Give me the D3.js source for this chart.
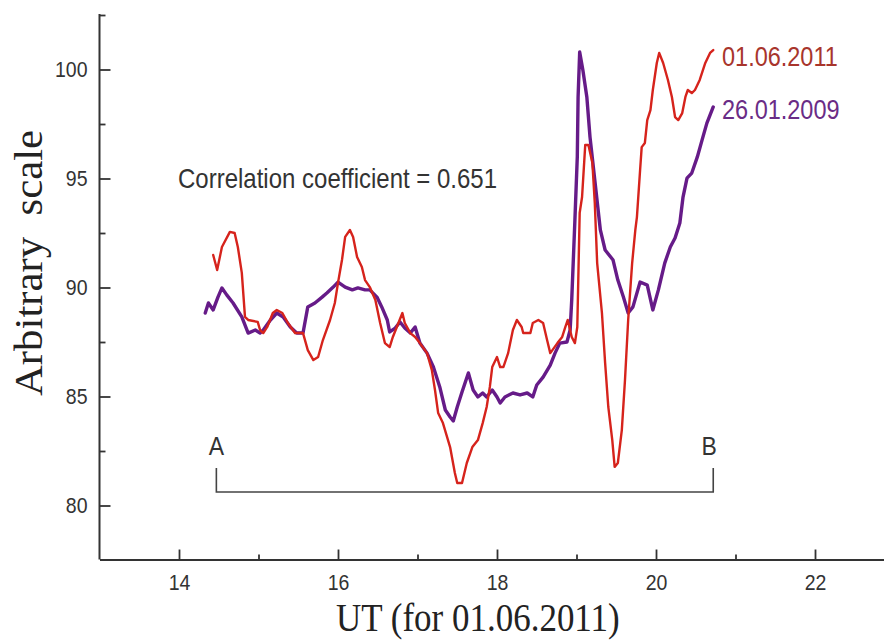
<!DOCTYPE html>
<html>
<head>
<meta charset="utf-8">
<script src="https://cdn.jsdelivr.net/npm/d3@7"></script>
<style>
  html, body { margin: 0; padding: 0; background: #fff; }
  svg { display: block; }
</style>
</head>
<body>
<svg id="chart" width="884" height="642"></svg>
<script>
// ---- data ----
const redUT = [14.43,14.48,14.54,14.64,14.70,14.74,14.79,14.83,14.87,14.99,15.02,15.06,15.11,15.18,15.23,15.30,15.37,15.46,15.56,15.62,15.69,15.75,15.81,15.90,15.96,16.00,16.05,16.09,16.15,16.19,16.24,16.30,16.34,16.40,16.47,16.53,16.59,16.65,16.69,16.74,16.81,16.84,16.91,16.97,17.03,17.12,17.18,17.22,17.26,17.32,17.41,17.47,17.50,17.56,17.62,17.69,17.76,17.82,17.87,17.91,17.94,18.00,18.04,18.08,18.14,18.20,18.25,18.31,18.33,18.42,18.45,18.52,18.58,18.63,18.67,18.76,18.82,18.86,18.89,18.94,18.98,19.01,19.04,19.07,19.11,19.15,19.20,19.23,19.26,19.32,19.36,19.40,19.45,19.48,19.52,19.57,19.61,19.65,19.70,19.74,19.76,19.80,19.82,19.86,19.89,19.93,19.96,20.01,20.04,20.09,20.15,20.20,20.24,20.28,20.33,20.37,20.40,20.45,20.49,20.55,20.62,20.68,20.72];
const redVal = [91.49,90.80,91.86,92.55,92.50,91.86,90.67,88.65,88.51,88.42,88.05,87.91,88.19,88.83,88.97,88.83,88.37,87.91,87.91,87.13,86.67,86.81,87.59,88.51,89.29,90.21,91.26,92.32,92.64,92.32,91.40,90.94,90.34,90.02,89.43,88.37,87.45,87.27,87.73,88.19,88.83,88.37,87.91,87.73,87.45,86.99,86.22,85.30,84.24,83.78,82.68,81.49,81.03,81.03,81.95,82.68,83.00,83.78,84.52,85.44,86.35,86.81,86.35,86.35,86.99,88.05,88.51,88.19,87.91,87.91,88.37,88.51,88.37,87.59,86.99,87.45,87.73,88.19,88.51,87.73,87.45,88.19,93.42,94.15,96.54,96.54,95.71,93.88,91.12,88.83,86.54,84.52,83.00,81.77,81.95,83.46,85.76,88.51,91.12,92.64,93.23,95.39,96.44,96.63,97.68,98.14,99.06,100.30,100.76,100.30,99.52,98.74,97.82,97.68,98.00,98.74,99.06,98.92,99.06,99.52,100.30,100.76,100.89];

const purpleUT = [14.33,14.37,14.43,14.49,14.54,14.60,14.68,14.79,14.87,14.96,15.02,15.06,15.15,15.23,15.31,15.40,15.48,15.56,15.62,15.71,15.80,15.86,15.94,16.00,16.09,16.18,16.25,16.34,16.40,16.49,16.55,16.62,16.65,16.72,16.78,16.84,16.91,16.97,17.03,17.12,17.20,17.28,17.35,17.41,17.45,17.50,17.56,17.64,17.70,17.76,17.82,17.87,17.94,18.00,18.04,18.10,18.20,18.29,18.38,18.45,18.50,18.58,18.67,18.73,18.79,18.88,18.92,18.94,18.98,19.01,19.02,19.04,19.08,19.13,19.17,19.23,19.30,19.36,19.46,19.52,19.59,19.65,19.71,19.80,19.89,19.96,20.03,20.11,20.18,20.24,20.30,20.34,20.39,20.45,20.52,20.58,20.64,20.72];
const purpleVal = [88.83,89.29,88.97,89.56,89.98,89.66,89.29,88.65,87.91,88.05,87.91,88.05,88.51,88.83,88.65,88.19,87.91,87.91,89.11,89.29,89.56,89.75,90.02,90.25,90.02,89.89,89.98,89.89,89.89,89.56,89.11,88.51,87.96,88.14,88.42,88.14,87.91,88.19,87.45,86.99,86.35,85.44,84.38,84.06,83.88,84.52,85.21,86.08,85.30,84.98,85.16,84.98,85.30,84.98,84.70,84.98,85.16,85.07,85.16,84.98,85.53,85.89,86.44,86.99,87.45,87.50,88.05,89.43,93.10,95.99,98.74,100.80,99.98,98.74,96.90,94.93,92.64,91.72,91.26,90.34,89.56,88.83,89.11,90.25,90.11,88.97,89.89,91.12,91.86,92.27,92.96,94.15,95.02,95.25,95.99,96.77,97.54,98.28];

const seriesNames = ["01.06.2011", "26.01.2009"];
const xTicks = [14, 16, 18, 20, 22];
const xMinorTicks = [15, 17, 19, 21];
const yTicks = [80, 85, 90, 95, 100];
const yMinorTicks = [82.5, 87.5, 92.5, 97.5, 102.5];
const xTitle = "UT (for 01.06.2011)";
const yTitle = "Arbitrary  scale";
const noteText = "Correlation coefficient = 0.651";
const bracketFrom = 14.47, bracketTo = 20.72, bracketLevel = 80.62, bracketTop = 81.72;

// ---- layout ----
const svg = d3.select("#chart");
const axisY0 = 559.5, axisX0 = 99.5;
const x = d3.scaleLinear().domain([13, 23]).range([99.5, 894.5]);
const y = d3.scaleLinear().domain([77.5, 102.5]).range([560, 15]);
const stretch = 1.15;
const sans = "'Liberation Sans', Arial, sans-serif";
const serif = "'Liberation Serif', 'Times New Roman', serif";
const axisColor = "#333";

// x axis (major + minor, ticks inward)
svg.append("g").attr("transform", `translate(0,${axisY0})`)
  .call(d3.axisBottom(x).tickValues(xTicks).tickSizeInner(-10).tickSizeOuter(0).tickPadding(12.5).tickFormat(d3.format("d")));
svg.append("g").attr("transform", `translate(0,${axisY0})`)
  .call(d3.axisBottom(x).tickValues(xMinorTicks).tickSizeInner(-5).tickSizeOuter(0).tickFormat(""))
  .call(g => g.select(".domain").remove());

// y axis
const gy = svg.append("g").attr("transform", `translate(${axisX0},0)`)
  .call(d3.axisLeft(y).tickValues(yTicks).tickSizeInner(-11).tickSizeOuter(0).tickPadding(12).tickFormat(d3.format("d")));
svg.append("g").attr("transform", `translate(${axisX0},0)`)
  .call(d3.axisLeft(y).tickValues(yMinorTicks).tickSizeInner(-6).tickSizeOuter(0).tickFormat(""))
  .call(g => g.select(".domain").remove());

svg.selectAll(".domain").attr("stroke", axisColor).attr("stroke-width", 2);
svg.selectAll(".tick line").attr("stroke", axisColor).attr("stroke-width", 1.8);
svg.selectAll(".tick text")
  .attr("fill", "#333")
  .style("font-family", sans)
  .style("font-size", "19.5px")
  .attr("transform", `scale(1,${stretch})`);
gy.select(".domain").attr("d", `M0,${axisY0}V${y(102.55)}`);

// lines
const line = d3.line().x(d => x(d[0])).y(d => y(d[1]));
const purplePts = purpleUT.map((u, i) => [u, purpleVal[i]]);
const redPts = redUT.map((u, i) => [u, redVal[i]]);

svg.append("path").datum(purplePts)
  .attr("d", line).attr("fill", "none")
  .attr("stroke", "#661b88").attr("stroke-width", 3.4)
  .attr("stroke-linejoin", "round").attr("stroke-linecap", "round");
svg.append("path").datum(redPts)
  .attr("d", line).attr("fill", "none")
  .attr("stroke", "#d6231c").attr("stroke-width", 2.4)
  .attr("stroke-linejoin", "round").attr("stroke-linecap", "round");

// series labels
const legendX = 722;
[[seriesNames[0], 66, "#a8352c"], [seriesNames[1], 119, "#6a2c86"]].forEach(([t, by, c]) => {
  svg.append("text").attr("transform", `translate(${legendX},${by}) scale(1,${stretch})`)
    .attr("fill", c).style("font-family", sans).style("font-size", "23.5px").text(t);
});

// correlation note
svg.append("text").attr("transform", `translate(178,188) scale(1,${stretch})`)
  .attr("fill", "#333").style("font-family", sans).style("font-size", "24px").text(noteText);

// A-B bracket
const br = svg.append("g").attr("stroke", "#444").attr("stroke-width", 1.6).attr("fill", "none");
br.append("path").attr("d",
  `M${x(bracketFrom)},${y(bracketTop)}V${y(bracketLevel)}H${x(bracketTo)}V${y(bracketTop)}`);
[["A", bracketFrom], ["B", bracketTo - 0.05]].forEach(([t, u]) => {
  svg.append("text").attr("transform", `translate(${x(u)},455) scale(1,${stretch})`)
    .attr("text-anchor", "middle").attr("fill", "#333")
    .style("font-family", sans).style("font-size", "23px").text(t);
});

// axis titles
svg.append("text").attr("transform", `translate(336,631) scale(1,1.12)`)
  .attr("fill", "#222").style("font-family", serif).style("font-size", "35px").text(xTitle);
svg.append("text").attr("transform", `translate(42,263) scale(1,1.07) rotate(-90)`)
  .attr("text-anchor", "middle").attr("fill", "#222").attr("xml:space", "preserve")
  .style("white-space", "pre")
  .style("font-family", serif).style("font-size", "40px").text(yTitle);
</script>
</body>
</html>
